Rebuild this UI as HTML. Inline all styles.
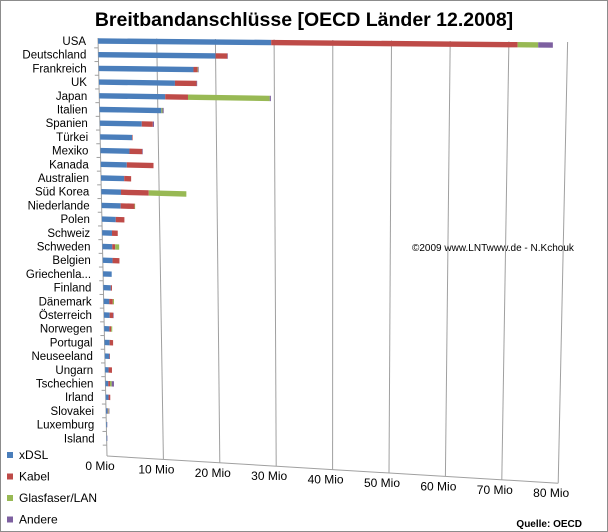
<!DOCTYPE html>
<html><head><meta charset="utf-8"><style>
body{margin:0;background:#fff}
svg{display:block;font-family:"Liberation Sans",sans-serif}
</style></head><body>
<svg id="c" width="608" height="532">
<rect x="0.5" y="0.5" width="607" height="531" fill="#fff" stroke="#8c8c8c"/>
<text x="304" y="26" text-anchor="middle" font-size="19.5" font-weight="bold" fill="#000">Breitbandanschlüsse [OECD Länder 12.2008]</text>
<text x="412" y="251" font-size="10" fill="#000">©2009 www.LNTwww.de - N.Kchouk</text>
<text x="582" y="527" text-anchor="end" font-size="10" font-weight="bold">Quelle: OECD</text>
<g id="grid"></g><g id="bars"></g><g id="labels"></g><g id="legend"></g>
</svg>
<script>
const categories=["USA","Deutschland","Frankreich","UK","Japan","Italien","Spanien","Türkei","Mexiko","Kanada","Australien","Süd Korea","Niederlande","Polen","Schweiz","Schweden","Belgien","Griechenla...","Finland","Dänemark","Österreich","Norwegen","Portugal","Neuseeland","Ungarn","Tschechien","Irland","Slovakei","Luxemburg","Island"];
const xdsl=[29.5,20,16.2,13,11.3,10.6,7.2,5.5,5,4.5,4,3.4,3.3,2.4,1.7,1.7,1.7,1.5,1.3,1,1,0.9,0.9,0.8,0.6,0.5,0.5,0.3,0.12,0.1];
const kabel=[42,2,0.7,3.7,3.9,0,1.9,0.1,2.2,4.6,1.2,4.8,2.4,1.5,1,0.5,1.2,0,0.2,0.6,0.6,0.3,0.6,0.1,0.6,0.3,0.3,0.1,0,0];
const glas=[3.5,0,0.1,0,14,0.2,0,0,0,0,0,6.5,0.1,0,0,0.7,0,0,0,0.2,0,0.2,0,0,0,0.3,0,0.1,0,0];
const andere=[2.5,0.1,0.1,0.1,0.2,0.2,0.2,0,0.1,0,0,0,0,0,0,0,0,0,0,0,0.1,0,0,0,0,0.4,0,0.1,0.05,0.05];
const ticks=[0,10,20,30,40,50,60,70,80];
const seriesNames=["xDSL","Kabel","Glasfaser/LAN","Andere"];
const colors=["#4a7ebb","#be4b48","#98b954","#7d60a0"];
const NS="http://www.w3.org/2000/svg";
const N=categories.length;
function X(v,f){return (98+v*5.87)*(1-f)+(107+v*5.64)*f;}
function Y(v,f){const y0=38+f*418;return y0+v*(0.05+0.29*f);}
function rowF(i){return (3+i*13.7)/418;}
function mk(tag,attrs,parent){const e=document.createElementNS(NS,tag);for(const k in attrs)e.setAttribute(k,attrs[k]);parent.appendChild(e);return e;}
const grid=document.getElementById('grid'),bars=document.getElementById('bars'),labels=document.getElementById('labels'),legend=document.getElementById('legend');
ticks.forEach(t=>{
 const l=mk('line',{x1:X(t,0),y1:Y(t,0),x2:X(t,1),y2:Y(t,1),stroke:'#a0a0a0','stroke-width':1},grid);
 
 
 const tx=mk('text',{x:X(t,1)-7,y:Y(t,1)+14,'text-anchor':'middle','font-size':12},labels);
 tx.textContent=t+' Mio';
 
 
});
const floor=mk('line',{x1:X(0,1),y1:Y(0,1),x2:X(80,1),y2:Y(80,1),stroke:'#a0a0a0'},grid);


for(let i=0;i<=N;i++){const f=(i*13.7-3.85)/418; if(f<0)continue;
 const t=mk('line',{x1:X(0,f)-4,y1:Y(0,f),x2:X(0,f),y2:Y(0,f),stroke:'#a0a0a0'},grid);
 
 
}
const series=[xdsl,kabel,glas,andere];
categories.forEach((c,i)=>{
 const f=rowF(i);
 const tx=mk('text',{x:X(0,f)-12,y:Y(0,f)+4,'text-anchor':'end','font-size':11.5},labels);
 tx.textContent=c;
 
 
 let acc=0;
 series.forEach((s,k)=>{
  const v=s[i];if(v<=0)return;
  const a=acc,b=acc+v;acc=b;
  const h=2.7;
  const pts=[[X(a,f),Y(a,f)-h],[X(b,f),Y(b,f)-h],[X(b,f),Y(b,f)+h],[X(a,f),Y(a,f)+h]];
  const p=mk('polygon',{points:pts.map(q=>q.join(',')).join(' '),fill:colors[k]},bars);
  
  
 });
});
seriesNames.forEach((n,k)=>{
 const y=456+k*21.5;
 const r=mk('rect',{x:7,y:y-4,width:6,height:6,fill:colors[k]},legend);
 
 
 const t=mk('text',{x:19,y:y+3,'font-size':12},legend);
 t.textContent=n;
 
 
});
</script>
</body></html>
